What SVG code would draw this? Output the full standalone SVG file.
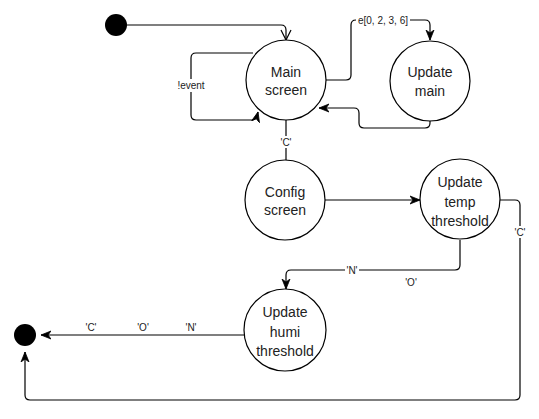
<svg xmlns="http://www.w3.org/2000/svg" width="539" height="419" viewBox="0 0 539 419">
<style>
.st{fill:#fff;stroke:#000;stroke-width:1.2}
.nt{font-family:"Liberation Sans",Arial,sans-serif;font-size:14px;fill:#222;text-anchor:middle}
.lb{font-family:"Liberation Sans",Arial,sans-serif;font-size:10px;fill:#222;text-anchor:middle}
.ed{fill:none;stroke:#000;stroke-width:1.2}
.bg{fill:#fff}
</style>
<defs>
<marker id="ar" viewBox="0 0 10 10" refX="10" refY="5" markerWidth="10" markerHeight="10" markerUnits="userSpaceOnUse" orient="auto">
<path d="M0,1 L10,5 L0,9 L3,5 Z" fill="#000" stroke="#000" stroke-width="0.8"/>
</marker>
<marker id="op" viewBox="0 0 12 12" refX="11" refY="6" markerWidth="12" markerHeight="12" markerUnits="userSpaceOnUse" orient="auto">
<path d="M1,1 L11,6 L1,11" fill="none" stroke="#000" stroke-width="1.2"/>
</marker>
</defs>
<g id="connectors">
<path class="ed" d="M127,25 H281 Q286,25 286,30 V40" marker-end="url(#op)"/>
<path class="ed" d="M253,53 H196 Q191,53 191,58 V115 Q191,120 196,120 H252 Q256,120 258,112" marker-end="url(#ar)"/>
<path class="ed" d="M326,80 H346 Q351,80 351,75 V25 Q351,20 356,20 H425 Q430,20 430,25 V40" marker-end="url(#ar)"/>
<path class="ed" d="M430,120 V123 Q430,128 425,128 H364 Q359,128 359,123 V113 Q359,108 354,108 H319" marker-end="url(#ar)"/>
<path class="ed" d="M286,120 V160"/>
<path class="ed" d="M325,200 H420" marker-end="url(#ar)"/>
<path class="ed" d="M500,200 H515 Q520,200 520,205 V395 Q520,400 515,400 H30 Q25,400 25,395 V352" marker-end="url(#ar)"/>
<path class="ed" d="M460,240 V265 Q460,270 455,270 H291 Q286,270 286,275 V289" marker-end="url(#ar)"/>
<path class="ed" d="M245,335 H41" marker-end="url(#ar)"/>
<rect class="bg" x="171" y="79" width="40" height="13"/>
<text class="lb" x="191" y="89">!event</text>
<rect class="bg" x="356" y="14" width="54" height="12"/>
<text class="lb" x="383" y="24">e[0, 2, 3, 6]</text>
<rect class="bg" x="280" y="136" width="12" height="12"/>
<text class="lb" x="286" y="146">'C'</text>
<rect class="bg" x="514" y="226" width="12" height="12"/>
<text class="lb" x="520" y="236">'C'</text>
<rect class="bg" x="345" y="264" width="14" height="12"/>
<text class="lb" x="352" y="274">'N'</text>
<text class="lb" x="411" y="286">'O'</text>
<text class="lb" x="91" y="331">'C'</text>
<text class="lb" x="143" y="331">'O'</text>
<text class="lb" x="191" y="331">'N'</text>
</g>
<g id="start"><circle cx="116" cy="25" r="11" fill="#000"/></g>
<g id="end"><circle cx="25" cy="335" r="11" fill="#000"/></g>
<g id="main-screen">
<circle class="st" cx="286" cy="80" r="40"/>
<text class="nt" x="286" y="77">Main</text>
<text class="nt" x="286" y="95">screen</text>
</g>
<g id="update-main">
<circle class="st" cx="430" cy="81" r="40"/>
<text class="nt" x="430" y="77">Update</text>
<text class="nt" x="430" y="96">main</text>
</g>
<g id="config-screen">
<circle class="st" cx="285" cy="200" r="40"/>
<text class="nt" x="285" y="197">Config</text>
<text class="nt" x="285" y="215">screen</text>
</g>
<g id="update-temp">
<circle class="st" cx="460" cy="199" r="40"/>
<text class="nt" x="460" y="187">Update</text>
<text class="nt" x="460" y="207">temp</text>
<text class="nt" x="460" y="226">threshold</text>
</g>
<g id="update-humi">
<circle class="st" cx="285" cy="330" r="41"/>
<text class="nt" x="285" y="317">Update</text>
<text class="nt" x="285" y="337">humi</text>
<text class="nt" x="285" y="356">threshold</text>
</g>
</svg>
